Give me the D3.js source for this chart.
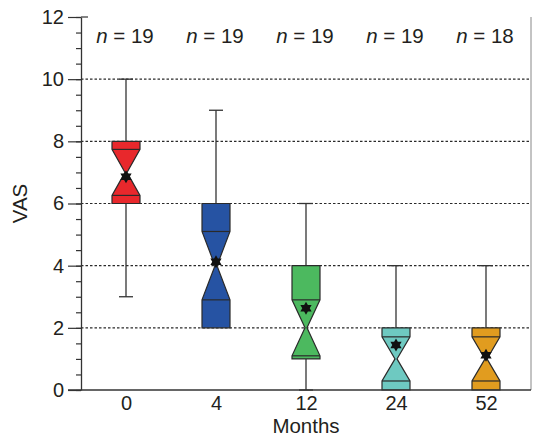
<!DOCTYPE html>
<html><head><meta charset="utf-8">
<script src="https://cdn.jsdelivr.net/npm/d3@7"></script>
<style>body{margin:0;background:#fff}</style></head>
<body><svg id="c" width="533" height="440"></svg>
<script>
const months=["0","4","12","24","52"];
const nCounts=[19,19,19,19,18];
const whiskerLow=[3,2,0,0,0];
const q1=[6,2,1,0,0];
const notchLow=[6.26,2.9,1.1,0.29,0.29];
const medians=[7,4,2,1,1];
const notchHigh=[7.74,5.1,2.9,1.71,1.71];
const q3=[8,6,4,2,2];
const whiskerHigh=[10,9,6,4,4];
const means=[6.86,4.13,2.63,1.45,1.12];
const colors=["#e8282c","#2653a3","#4cb95f","#6ec9c1","#e19c1f"];
const yTicks=[0,2,4,6,8,10,12];
const gridVals=[2,4,6,8,10];

const svg=d3.select("#c");
const font="'Liberation Sans', Arial, Helvetica, sans-serif";
const ink="#231f20";
const pLeft=81,pRight=531,pTop=17,pBottom=390;
const x=d3.scalePoint().domain(months).range([pLeft,pRight]).padding(0.5);
const y=d3.scaleLinear().domain([0,12]).range([pBottom,pTop]);

svg.append("g").selectAll("line").data(gridVals).join("line")
  .attr("x1",pLeft).attr("x2",pRight).attr("y1",d=>y(d)).attr("y2",d=>y(d))
  .attr("stroke","#2a2a2a").attr("stroke-width",1.1).attr("stroke-dasharray","2.5,2");

svg.append("line").attr("x1",pRight).attr("x2",pRight).attr("y1",y(12)).attr("y2",y(0))
  .attr("stroke","#888").attr("stroke-width",1);

const bw=28, cap=14, waist=1;
const data=months.map((m,i)=>({m,i,wl:whiskerLow[i],q1:q1[i],nl:notchLow[i],med:medians[i],nh:notchHigh[i],q3:q3[i],wh:whiskerHigh[i],mean:means[i],c:colors[i]}));

const g=svg.append("g");
data.forEach(d=>{
  const cx=x(d.m);
  g.append("line").attr("x1",cx).attr("x2",cx).attr("y1",y(d.q3)).attr("y2",y(d.wh)).attr("stroke","#333").attr("stroke-width",1.3);
  g.append("line").attr("x1",cx-cap/2).attr("x2",cx+cap/2).attr("y1",y(d.wh)).attr("y2",y(d.wh)).attr("stroke","#333").attr("stroke-width",1.3);
  if(d.wl<d.q1){
    g.append("line").attr("x1",cx).attr("x2",cx).attr("y1",y(d.q1)).attr("y2",y(d.wl)).attr("stroke","#333").attr("stroke-width",1.3);
    g.append("line").attr("x1",cx-cap/2).attr("x2",cx+cap/2).attr("y1",y(d.wl)).attr("y2",y(d.wl)).attr("stroke","#333").attr("stroke-width",1.3);
  }
  const pts=[[cx-bw/2,y(d.q3)],[cx+bw/2,y(d.q3)],[cx+bw/2,y(d.nh)],[cx+waist,y(d.med)],[cx+bw/2,y(d.nl)],[cx+bw/2,y(d.q1)],
    [cx-bw/2,y(d.q1)],[cx-bw/2,y(d.nl)],[cx-waist,y(d.med)],[cx-bw/2,y(d.nh)]];
  g.append("path").attr("d",d3.line()(pts)+"Z").attr("fill",d.c).attr("stroke","#2a2a2a").attr("stroke-width",1.2).attr("stroke-linejoin","miter");
  [d.nh,d.nl].forEach(v=>{
    g.append("line").attr("x1",cx-bw/2).attr("x2",cx+bw/2).attr("y1",y(v)).attr("y2",y(v)).attr("stroke","#2a2a2a").attr("stroke-width",1.2);
  });
  const ro=6.5, ri=ro/Math.sqrt(3);
  const star=d3.range(12).map(k=>{const a=-Math.PI/2+k*Math.PI/6; const r=k%2?ri:ro; return [cx+r*Math.cos(a), y(d.mean)+r*Math.sin(a)];});
  g.append("path").attr("d",d3.line()(star)+"Z").attr("fill","#111");
});

svg.append("g").attr("transform",`translate(${pLeft},0)`)
  .call(d3.axisLeft(y).tickValues(d3.range(0,12.01,0.5)).tickSize(5).tickFormat("").tickSizeOuter(0))
  .call(a=>a.selectAll("line").attr("stroke","#333").attr("stroke-width",1.2))
  .call(a=>a.select(".domain").attr("stroke","#333").attr("stroke-width",1.3));
svg.append("g").attr("transform",`translate(${pLeft},0)`)
  .call(d3.axisLeft(y).tickValues(yTicks).tickSize(13).tickPadding(4).tickSizeOuter(0))
  .call(a=>a.select(".domain").remove())
  .call(a=>a.selectAll("line").attr("stroke","#333").attr("stroke-width",1.2))
  .call(a=>a.selectAll("text").attr("font-family",font).attr("font-size",20).attr("fill",ink));
svg.append("line").attr("x1",pLeft).attr("x2",pLeft+7).attr("y1",y(12)).attr("y2",y(12)).attr("stroke","#333").attr("stroke-width",1.2);

svg.append("line").attr("x1",68).attr("x2",pRight).attr("y1",y(0)).attr("y2",y(0)).attr("stroke","#333").attr("stroke-width",1.3);
svg.append("g").attr("transform",`translate(0,${pBottom})`)
  .call(d3.axisBottom(x).tickSize(0).tickPadding(6))
  .call(a=>a.select(".domain").remove())
  .call(a=>a.selectAll("text").attr("font-family",font).attr("font-size",20).attr("fill",ink));

const nl=svg.append("g").selectAll("text").data(data).join("text")
  .attr("x",d=>x(d.m)-1).attr("y",42.5).attr("text-anchor","middle")
  .attr("font-family",font).attr("font-size",20.5).attr("fill",ink);
nl.append("tspan").attr("font-style","italic").text("n");
nl.append("tspan").text((d,i)=>" = "+nCounts[i]);

svg.append("text").attr("transform",`translate(27,${(pTop+pBottom)/2}) rotate(-90)`).attr("text-anchor","middle")
  .attr("font-family",font).attr("font-size",20.5).attr("fill",ink).text("VAS");
svg.append("text").attr("x",(pLeft+pRight)/2).attr("y",433).attr("text-anchor","middle")
  .attr("font-family",font).attr("font-size",20.5).attr("fill",ink).text("Months");
</script></body></html>
